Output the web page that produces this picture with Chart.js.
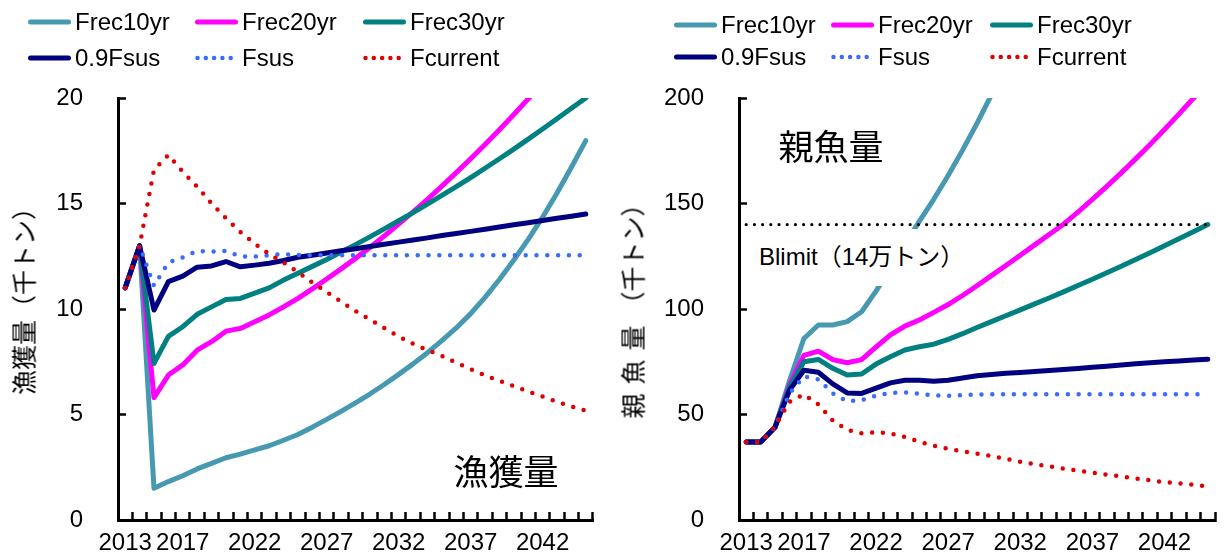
<!DOCTYPE html>
<html>
<head>
<meta charset="utf-8">
<script src="https://cdn.jsdelivr.net/npm/chart.js@4.4.1/dist/chart.umd.min.js"></script>
<style>
  html, body { margin: 0; padding: 0; background: #fff; }
  #wrap { position: relative; width: 1224px; height: 558px; overflow: hidden;
          font-family: "Liberation Sans", "Noto Sans CJK JP", sans-serif; color: #000; }
  #wrap canvas { position: absolute; top: 0; }
  .leg { position: absolute; height: 30px; display: flex; align-items: center;
         font-size: 24px; white-space: nowrap; }
  .leg svg { display: block; margin-right: 4px; flex: none; }
  .ytitle { position: absolute; font-family: "Noto Sans CJK JP", sans-serif; font-size: 25px;
            white-space: nowrap; line-height: 1; transform: translate(-50%, -50%) rotate(-90deg); }
  .panel-name { position: absolute; font-family: "Noto Sans CJK JP", sans-serif; font-size: 35px;
                white-space: nowrap; line-height: 1; transform: translate(-50%, -50%); }
  .ref-label { position: absolute; background: #fff; font-size: 24px; white-space: nowrap;
               padding: 0 3px 0 7px; }
</style>
</head>
<body>
<div id="wrap">
  <canvas id="catchChart" width="612" height="558" style="left:0"></canvas>
  <canvas id="ssbChart" width="612" height="558" style="left:612px"></canvas>
</div>
<script>
// Years 2013–2045 on the category axis
const years = ['2013','2014','2015','2016','2017','2018','2019','2020','2021','2022','2023',
               '2024','2025','2026','2027','2028','2029','2030','2031','2032','2033','2034',
               '2035','2036','2037','2038','2039','2040','2041','2042','2043','2044','2045'];
const xTickLabels = ['2013','2017','2022','2027','2032','2037','2042'];
const catchTicks = [0, 5, 10, 15, 20];
const ssbTicks = [0, 50, 100, 150, 200];

const seriesNames = ['Frec10yr', 'Frec20yr', 'Frec30yr', '0.9Fsus', 'Fsus', 'Fcurrent'];

// 漁獲量（千トン）
const catchFrec10 = [11.0, 13.0, 1.5, 1.82, 2.1, 2.42, 2.68, 2.95, 3.12, 3.32, 3.52, 3.78, 4.05,
  4.4, 4.77, 5.15, 5.55, 5.97, 6.42, 6.9, 7.4, 7.93, 8.5, 9.1, 9.78, 10.55, 11.4, 12.32, 13.3,
  14.35, 15.5, 16.72, 17.98];
const catchFrec20 = [11.0, 13.0, 5.8, 6.87, 7.35, 8.05, 8.45, 8.95, 9.08, 9.4, 9.72, 10.1, 10.5,
  10.95, 11.42, 11.9, 12.4, 12.92, 13.46, 14.02, 14.6, 15.2, 15.82, 16.46, 17.12, 17.8, 18.5,
  19.22, 19.96, 20.72, null, null, null];
const catchFrec30 = [11.0, 13.0, 7.42, 8.7, 9.16, 9.75, 10.1, 10.45, 10.5, 10.75, 11.0, 11.37, 11.7,
  12.02, 12.35, 12.7, 13.05, 13.42, 13.8, 14.18, 14.57, 14.97, 15.38, 15.8, 16.23, 16.67, 17.12,
  17.58, 18.05, 18.53, 19.02, 19.51, 20.0];
const catch09Fsus = [11.0, 13.0, 9.95, 11.3, 11.56, 11.98, 12.04, 12.25, 12.0, 12.08, 12.17, 12.3, 12.45,
  12.55, 12.65, 12.76, 12.86, 12.96, 13.07, 13.17, 13.27, 13.37, 13.48, 13.58, 13.68, 13.78, 13.89,
  13.99, 14.09, 14.19, 14.3, 14.4, 14.5];
const catchFsus = [11.0, 13.0, 11.1, 12.2, 12.45, 12.75, 12.72, 12.75, 12.5, 12.48, 12.55, 12.6, 12.56,
  12.55, 12.55, 12.55, 12.55, 12.55, 12.55, 12.55, 12.55, 12.55, 12.55, 12.55, 12.55, 12.55, 12.55,
  12.55, 12.55, 12.55, 12.55, 12.55, 12.55];
const catchFcurrent = [11.0, 13.0, 16.6, 17.3, 16.5, 15.8, 15.0, 14.3, 13.65, 13.1, 12.6, 12.2, 11.75,
  11.25, 10.8, 10.35, 9.9, 9.5, 9.1, 8.7, 8.35, 8.05, 7.78, 7.45, 7.15, 6.85, 6.6, 6.35, 6.08,
  5.85, 5.6, 5.38, 5.18];

// 親魚量（千トン）
const ssbFrec10 = [37, 37, 44, 66, 86, 92.4, 92.4, 94.0, 98.7, 108.5, 119.5, 130.5, 141.5,
  152, 163.3, 175.3, 188, 201.5, 216, null, null, null, null, null, null, null, null,
  null, null, null, null, null, null];
const ssbFrec20 = [37, 37, 44, 64, 78, 80, 76, 74.5, 76, 82, 87.7, 91.9, 94.8,
  98.4, 102.1, 106.4, 111.0, 115.8, 120.6, 125.5, 130.4, 135.3, 140.2, 145.95, 151.92, 158.11, 164.52,
  171.15, 178.0, 185.07, 192.36, 199.87, 207.6];
const ssbFrec30 = [37, 37, 44, 63, 75, 76.1, 71.9, 68.7, 69.2, 73.9, 77.4, 80.6, 82.1,
  83.3, 85.6, 88.3, 91.2, 94.0, 96.8, 99.6, 102.4, 105.2, 108.1, 111.1, 114.1, 117.2, 120.3,
  123.5, 126.7, 130.0, 133.3, 136.6, 140.0];
const ssb09Fsus = [37, 37, 44, 61.5, 71, 70, 64.5, 60.2, 60, 62.5, 65, 66.2, 66.2,
  65.8, 66.2, 67.3, 68.4, 69.0, 69.5, 69.9, 70.35, 70.8, 71.3, 71.85, 72.4, 72.9, 73.45,
  74.0, 74.5, 74.95, 75.4, 75.8, 76.2];
const ssbFsus = [37, 37, 44, 60, 68, 66.7, 60, 56.3, 56.8, 59, 60.3, 60.5, 59.8,
  59.0, 58.9, 59.2, 59.5, 59.6, 59.6, 59.6, 59.6, 59.6, 59.6, 59.6, 59.6, 59.6, 59.6,
  59.6, 59.6, 59.6, 59.6, 59.6, 59.6];
const ssbFcurrent = [37, 37, 44.5, 56, 59.5, 54.8, 47.1, 42.7, 41.1, 41.6, 41.0, 39.3, 37.1,
  35.2, 33.7, 32.5, 31.4, 30.4, 29.0, 27.6, 26.5, 25.4, 24.4, 23.3, 22.5, 21.5, 20.6,
  19.7, 18.8, 17.95, 17.4, 16.7, 16.0];

const blimit = 140;   // Blimit（14万トン）

// Line styles per scenario
const seriesColors = ['#4699B1', '#FF00FF', '#008080', '#000080', '#3A6BFF', '#E00000'];
const dotted = [false, false, false, false, true, true];
const DOT_GAP = 10.8;

const tickFont = { family: 'Liberation Sans', size: 24 };

// Dotted horizontal reference level across all years
const refLinePlugin = {
  id: 'refLine',
  afterDatasetsDraw(chart, args, opts) {
    if (opts.value == null) return;
    const x = chart.scales.x, y = chart.scales.y;
    const py = y.getPixelForValue(opts.value);
    const ctx = chart.ctx;
    ctx.save();
    ctx.strokeStyle = '#000';
    ctx.lineWidth = 3.2;
    ctx.lineCap = 'round';
    ctx.setLineDash([0, 8.2]);
    ctx.beginPath();
    ctx.moveTo(x.getPixelForValue(0), py);
    ctx.lineTo(x.getPixelForValue(years.length - 1), py);
    ctx.stroke();
    ctx.restore();
  }
};

function makeChart(id, series, yMax, yTicks, yWidth, padRight, refValue) {
  const datasets = seriesNames.map((name, i) => ({
    label: name,
    data: series[i],
    borderColor: seriesColors[i],
    backgroundColor: seriesColors[i],
    borderWidth: dotted[i] ? 4.5 : 5,
    borderDash: dotted[i] ? [0, DOT_GAP] : [],
    borderCapStyle: 'round',
    borderJoinStyle: 'round',
    pointRadius: 0,
    tension: 0,
    fill: false,
    spanGaps: false,
    order: seriesNames.length - 1 - i,
    clip: { left: 10, right: 10, top: 0, bottom: 10 }
  }));
  return new Chart(document.getElementById(id), {
    type: 'line',
    data: { labels: years, datasets },
    plugins: [refLinePlugin],
    options: {
      responsive: false,
      animation: false,
      devicePixelRatio: 1,
      events: [],
      layout: { padding: { left: 0, right: padRight, top: 98, bottom: 0 } },
      plugins: {
        legend: { display: false },
        tooltip: { enabled: false },
        refLine: { value: refValue }
      },
      scales: {
        x: {
          type: 'category',
          offset: true,
          grid: { offset: true, drawOnChartArea: false, drawTicks: true, tickLength: -8,
                  tickWidth: 2.5, tickColor: '#000' },
          border: { display: true, color: '#000', width: 3 },
          ticks: {
            autoSkip: false, maxRotation: 0, minRotation: 0, padding: 17,
            color: '#000', font: tickFont,
            callback: function (v) {
              const lab = this.getLabelForValue(v);
              return xTickLabels.includes(lab) ? lab : '';
            }
          },
          afterFit: s => { s.height = 38; s.paddingLeft = 0; s.paddingRight = 0; }
        },
        y: {
          min: 0, max: yMax,
          afterBuildTicks: a => { a.ticks = yTicks.map(v => ({ value: v })); },
          grid: { drawOnChartArea: false, drawTicks: true, tickLength: -8,
                  tickWidth: 2.5, tickColor: '#000' },
          border: { display: true, color: '#000', width: 3 },
          ticks: { padding: 43, color: '#000', font: tickFont },
          afterFit: s => { s.width = yWidth; s.paddingTop = 0; s.paddingBottom = 0; }
        }
      }
    }
  });
}

makeChart('catchChart',
  [catchFrec10, catchFrec20, catchFrec30, catch09Fsus, catchFsus, catchFcurrent],
  20, catchTicks, 118, 19, null);
makeChart('ssbChart',
  [ssbFrec10, ssbFrec20, ssbFrec30, ssb09Fsus, ssbFsus, ssbFcurrent],
  200, ssbTicks, 127, 9, blimit);

// Legends: three columns, two rows, built from the series definitions
const wrap = document.getElementById('wrap');
function sampleSvg(i) {
  const dash = dotted[i] ? ` stroke-dasharray="0 8.3"` : '';
  const w = dotted[i] ? 4.5 : 5;
  return `<svg width="43" height="10"><line x1="2.5" y1="5" x2="40.5" y2="5" stroke="${seriesColors[i]}"` +
         ` stroke-width="${w}" stroke-linecap="round"${dash}/></svg>`;
}
function addLegend(colX, rowY) {
  seriesNames.forEach((name, i) => {
    const el = document.createElement('div');
    el.className = 'leg';
    el.style.left = colX[i % 3] + 'px';
    el.style.top = (rowY[Math.floor(i / 3)] - 15) + 'px';
    el.innerHTML = sampleSvg(i) + '<span>' + name + '</span>';
    wrap.appendChild(el);
  });
}
addLegend([28, 195, 363], [22, 58]);
addLegend([674, 831, 990], [25, 57]);

function addText(cls, html, left, top, extra) {
  const el = document.createElement('div');
  el.className = cls;
  el.innerHTML = html;
  el.style.left = left + 'px';
  el.style.top = top + 'px';
  if (extra) Object.assign(el.style, extra);
  wrap.appendChild(el);
  return el;
}
addText('ytitle', '漁獲量（千トン）', 23, 295);
addText('ytitle', '<span style="letter-spacing:9px">親魚量</span>（千トン）', 632, 305);
addText('panel-name', '漁獲量', 506, 469);
addText('panel-name', '親魚量', 831, 144);
addText('ref-label', 'Blimit（14万トン）', 752, 229, { height: '57px', lineHeight: '56px' });
</script>
</body>
</html>
